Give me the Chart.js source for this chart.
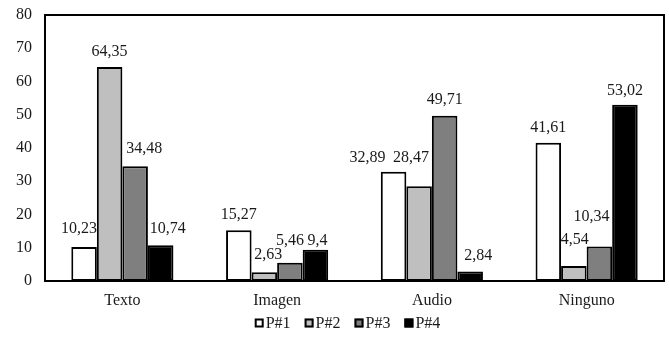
<!DOCTYPE html>
<html>
<head>
<meta charset="utf-8">
<script src="https://cdn.jsdelivr.net/npm/chart.js@4/dist/chart.umd.min.js"></script>
<style>
  html, body { margin: 0; padding: 0; background: #ffffff; }
  #wrap { width: 669px; height: 346px; }
</style>
</head>
<body>
<div id="wrap"><canvas id="c" width="669" height="346"></canvas></div>
<script>
// Categories and series (percentages)
const categories = ['Texto', 'Imagen', 'Audio', 'Ninguno'];
const seriesNames = ['P#1', 'P#2', 'P#3', 'P#4'];
const p1 = [10.23, 15.27, 32.89, 41.61];
const p2 = [64.35, 2.63, 28.47, 4.54];
const p3 = [34.48, 5.46, 49.71, 10.34];
const p4 = [10.74, 9.4, 2.84, 53.02];
const yTicks = [0, 10, 20, 30, 40, 50, 60, 70, 80];

const fills = ['#ffffff', '#bfbfbf', '#7f7f7f', '#000000'];
const FONT = '"Liberation Serif", "Times New Roman", serif';
const TEXT = '#1a1a1a';

const fmt = v => String(v).replace('.', ',');

// Hand placement of crowded value labels: [dx, lift] per series, per category
const labelNudge = [
  [[-5, 2], [0, -1], [-26, -2], [0, -1]],
  [[0, -1], [4, 1], [-8, 13], [1, 10]],
  [[9, 2], [0, 6], [0, 0], [-8, 14]],
  [[7, 0], [2, -7], [8, 0], [0, -2]]
];

// Value labels above each bar
const valueLabels = {
  id: 'valueLabels',
  afterDatasetsDraw(chart) {
    const ctx = chart.ctx;
    ctx.save();
    ctx.font = '16px ' + FONT;
    ctx.fillStyle = TEXT;
    ctx.textAlign = 'center';
    ctx.textBaseline = 'middle';
    chart.data.datasets.forEach((ds, di) => {
      const meta = chart.getDatasetMeta(di);
      meta.data.forEach((bar, i) => {
        const [dx, lift] = labelNudge[di][i];
        ctx.fillText(fmt(ds.data[i]), bar.x + dx, bar.y - 16 - lift);
      });
    });
    ctx.restore();
  }
};

// Frame around the plot area
const plotFrame = {
  id: 'plotFrame',
  afterDraw(chart) {
    const { left, right, top, bottom } = chart.chartArea;
    const ctx = chart.ctx;
    ctx.save();
    ctx.strokeStyle = '#000';
    ctx.lineWidth = 2;
    ctx.strokeRect(left, top, right - left, bottom - top);
    ctx.restore();
  }
};

// Compact legend row under the axis
const bottomLegend = {
  id: 'bottomLegend',
  afterDraw(chart) {
    const ctx = chart.ctx;
    const box = 9, gap = 2, spacing = 14;
    ctx.save();
    ctx.font = '16px ' + FONT;
    ctx.textBaseline = 'middle';
    ctx.textAlign = 'left';
    const items = chart.data.datasets.map(ds => ({ ds, w: box + gap + ctx.measureText(ds.label).width }));
    const total = items.reduce((s, it) => s + it.w, 0) + spacing * (items.length - 1);
    const { left, right } = chart.chartArea;
    let x = (left + right) / 2 - 7 - total / 2;
    const y = chart.height - 23;
    items.forEach(({ ds, w }) => {
      ctx.fillStyle = ds.backgroundColor;
      ctx.fillRect(x, y - box / 2, box, box);
      ctx.strokeStyle = '#000';
      ctx.lineWidth = 2;
      ctx.strokeRect(x + 1, y - box / 2 + 1, box - 2, box - 2);
      ctx.fillStyle = TEXT;
      ctx.fillText(ds.label, x + box + gap, y + 1);
      x += w + spacing;
    });
    ctx.restore();
  }
};

const datasets = [p1, p2, p3, p4].map((d, i) => ({
  label: seriesNames[i],
  data: d,
  backgroundColor: fills[i],
  borderColor: '#000',
  borderWidth: 2,
  borderSkipped: false,
  barPercentage: 1.0,
  categoryPercentage: 0.66
}));

new Chart(document.getElementById('c'), {
  type: 'bar',
  data: { labels: categories, datasets },
  options: {
    responsive: false,
    animation: false,
    layout: { autoPadding: false, padding: { left: 0, right: 5, top: 15, bottom: 37 } },
    plugins: {
      tooltip: { enabled: false },
      legend: { display: false }
    },
    scales: {
      x: {
        grid: { display: false, drawTicks: false },
        border: { display: true, color: '#000', width: 2 },
        ticks: { font: { family: FONT, size: 16 }, color: TEXT, padding: 10 },
        afterFit(axis) { axis.height = 28; }
      },
      y: {
        min: 0,
        max: 80,
        afterBuildTicks(axis) { axis.ticks = yTicks.map(v => ({ value: v })); },
        grid: { display: false, drawTicks: false },
        border: { display: true, color: '#000', width: 2 },
        ticks: { font: { family: FONT, size: 16 }, color: TEXT, padding: 13 },
        afterFit(axis) {
          axis.width = 45;
          axis.paddingTop = 0;
          axis.paddingBottom = 0;
        }
      }
    }
  },
  plugins: [valueLabels, plotFrame, bottomLegend]
});
</script>
</body>
</html>
